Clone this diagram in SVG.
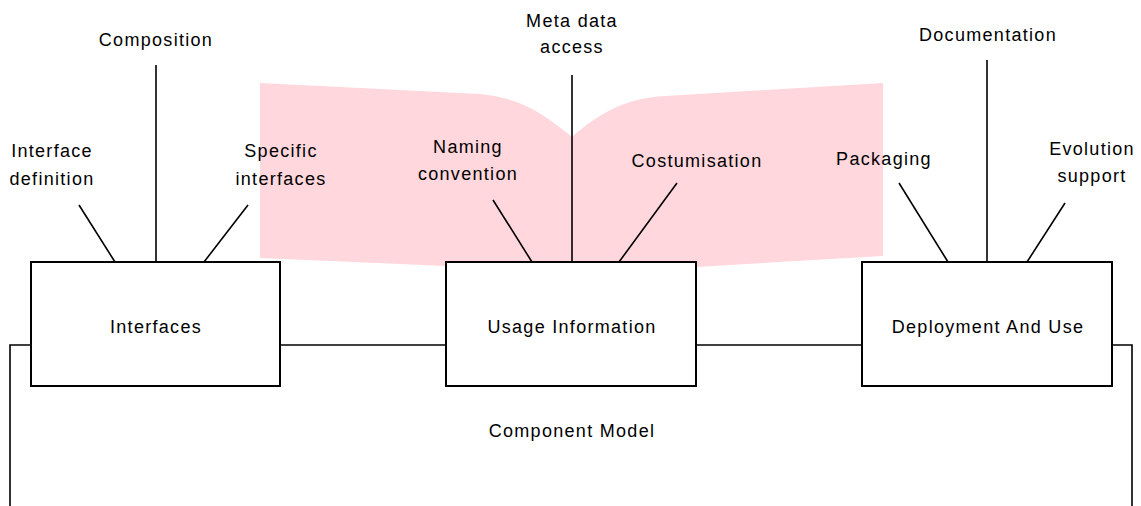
<svg xmlns="http://www.w3.org/2000/svg" width="1141" height="506" viewBox="0 0 1141 506">
<style>
text{font-family:"Liberation Sans",Arial,sans-serif;font-size:18px;letter-spacing:1.3px;fill:#000;text-anchor:middle}
.box{fill:#fff;stroke:#000;stroke-width:2}
.ln{stroke:#000;stroke-width:1.6;fill:none}
</style>
<rect width="1141" height="506" fill="#fff"/>
<path id="book" d="M260,83 L480,94 C522,98 545,115 572,137 C598,114 625,98 665,96 L883,83 L883,256 L696,267 L572,270 L446,266 L260,258 Z" fill="#ffd7dc"/>
<g id="connectors">
<polyline class="ln" points="31,345 10,345 10,506"/>
<line class="ln" x1="280" y1="345" x2="446" y2="345"/>
<line class="ln" x1="696" y1="345" x2="862" y2="345"/>
<polyline class="ln" points="1112,345 1132,345 1132,506"/>
<line class="ln" x1="79" y1="205" x2="115" y2="262"/>
<line class="ln" x1="156" y1="65" x2="156" y2="262"/>
<line class="ln" x1="248" y1="205" x2="204" y2="262"/>
<line class="ln" x1="493" y1="200" x2="532" y2="262"/>
<line class="ln" x1="572" y1="75" x2="572" y2="262"/>
<line class="ln" x1="677" y1="183" x2="619" y2="262"/>
<line class="ln" x1="899" y1="183" x2="948" y2="262"/>
<line class="ln" x1="987" y1="60" x2="987" y2="262"/>
<line class="ln" x1="1065" y1="203" x2="1027" y2="262"/>
</g>
<g id="interfaces">
<rect class="box" x="31" y="262" width="249" height="124"/>
<text x="156" y="333">Interfaces</text>
</g>
<g id="usage">
<rect class="box" x="446" y="262" width="250" height="124"/>
<text x="572" y="333">Usage Information</text>
</g>
<g id="deployment">
<rect class="box" x="862" y="262" width="250" height="124"/>
<text x="988" y="333">Deployment And Use</text>
</g>
<g id="labels">
<text x="156" y="46">Composition</text>
<text x="52" y="157">Interface</text>
<text x="52" y="185">definition</text>
<text x="281" y="157">Specific</text>
<text x="281" y="185">interfaces</text>
<text x="572" y="27">Meta data</text>
<text x="572" y="53">access</text>
<text x="468" y="153">Naming</text>
<text x="468" y="180">convention</text>
<text x="697" y="167">Costumisation</text>
<text x="884" y="165">Packaging</text>
<text x="988" y="41">Documentation</text>
<text x="1092" y="155">Evolution</text>
<text x="1092" y="182">support</text>
<text x="572" y="437">Component Model</text>
</g>
</svg>
